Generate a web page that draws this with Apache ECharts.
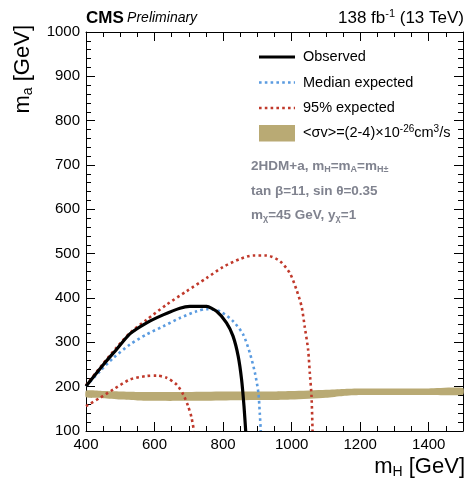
<!DOCTYPE html>
<html><head><meta charset="utf-8">
<script src="https://cdn.jsdelivr.net/npm/echarts@6/dist/echarts.min.js"></script>
<style>html,body{margin:0;padding:0;background:#fff}#c{width:472px;height:491px}</style>
</head><body><div id="c"></div>
<script>
// ---- data ----
const xTicks = [400, 600, 800, 1000, 1200, 1400];
const yTicks = [100, 200, 300, 400, 500, 600, 700, 800, 900, 1000];
const observed = [[400,201],[451,250],[489,284],[528,319],[577,344],[625,362],[674,377],[703,381],[752,381],[781,370],[810,344],[829,314],[844,269],[854,216],[861,156],[866,100]];
const medianExp = [[400,201],[441,235],[480,265],[528,295],[577,318],[625,336],[674,355],[723,370],[752,375],[791,370],[830,347],[859,317],[878,276],[893,231],[903,186],[907,141],[910,100]];
const exp95Upper = [[400,203],[450,252],[489,288],[528,321],[577,351],[635,385],[693,415],[752,445],[800,470],[849,488],[888,496],[927,496],[966,483],[995,456],[1014,419],[1029,381],[1038,336],[1048,284],[1053,231],[1058,179],[1061,100]];
const exp95Lower = [[400,156],[441,175],[480,194],[528,216],[577,224],[606,225],[635,220],[664,205],[684,182],[698,156],[708,130],[715,100]];
const bandX  = [400,450,500,550,600,700,800,900,950,1000,1100,1150,1200,1300,1400,1500];
const bandLo = [176,174,171,169,168,168,169,170,170,171,175,179,181,181,181,182];
const bandHi = [191,190,189,188,188,188,189,189,189,190,193,195,196,196,196,197];

const RED = '#c0392b', BLUE = '#5a9be0', TAN = '#b9aa74', GRAY = '#80838f';
const FONT = 'Liberation Sans, Arial, Helvetica, sans-serif';

const chart = echarts.init(document.getElementById('c'));

function axisCommon(show) {
  return {
    type: 'value',
    axisLine: { show: true, onZero: false, lineStyle: { color: '#000', width: 1 } },
    axisTick: { show: true, inside: true, length: 9, lineStyle: { color: '#000', width: 1 } },
    minorTick: { show: true, length: 5, lineStyle: { color: '#000', width: 1 } },
    splitLine: { show: false },
    minorSplitLine: { show: false },
    axisLabel: { show: show, color: '#000', fontSize: 15, fontFamily: FONT }
  };
}

const dotted = (c) => ({ color: c, width: 2.6, type: [2.6, 3.2], cap: 'butt' });

chart.setOption({
  animation: false,
  grid: { left: 86, right: 9, top: 32, bottom: 60 },
  xAxis: [
    Object.assign(axisCommon(true), { min: 400, max: 1500, interval: 200, position: 'bottom',
      minorTick: { show: true, splitNumber: 4, length: 5, lineStyle: { color: '#000' } },
      axisLabel: { color: '#000', fontSize: 15, fontFamily: FONT, margin: 6,
        formatter: v => xTicks.includes(v) ? String(v) : '' } }),
    Object.assign(axisCommon(false), { min: 400, max: 1500, interval: 200, position: 'top',
      minorTick: { show: true, splitNumber: 4, length: 5, lineStyle: { color: '#000' } } })
  ],
  yAxis: [
    Object.assign(axisCommon(true), { min: 100, max: 1000, interval: 100, position: 'left',
      minorTick: { show: true, splitNumber: 5, length: 5, lineStyle: { color: '#000' } },
      axisLabel: { color: '#000', fontSize: 15, fontFamily: FONT, margin: 6,
        formatter: v => yTicks.includes(v) ? String(v) : '' } }),
    Object.assign(axisCommon(false), { min: 100, max: 1000, interval: 100, position: 'right',
      minorTick: { show: true, splitNumber: 5, length: 5, lineStyle: { color: '#000' } } })
  ],
  series: [
    {
      type: 'custom', name: 'band', xAxisIndex: 0, yAxisIndex: 0, z: 1,
      data: bandX.map((x, i) => [x, bandLo[i], bandHi[i]]),
      renderItem: function (params, api) {
        if (params.dataIndex !== 0) return null;
        const pts = [];
        for (let i = 0; i < bandX.length; i++) pts.push(api.coord([bandX[i], bandHi[i]]));
        for (let i = bandX.length - 1; i >= 0; i--) pts.push(api.coord([bandX[i], bandLo[i]]));
        return { type: 'polygon', shape: { points: pts, smooth: 0.2 }, style: { fill: TAN } };
      }
    },
    { type: 'line', name: 'exp95Lower', data: exp95Lower, showSymbol: false, symbol: 'none', smooth: 0.25, lineStyle: dotted(RED), z: 3 },
    { type: 'line', name: 'exp95Upper', data: exp95Upper, showSymbol: false, symbol: 'none', smooth: 0.25, lineStyle: dotted(RED), z: 3 },
    { type: 'line', name: 'median', data: medianExp, showSymbol: false, symbol: 'none', smooth: 0.25, lineStyle: dotted(BLUE), z: 4 },
    { type: 'line', name: 'observed', data: observed, showSymbol: false, symbol: 'none', smooth: 0.2, lineStyle: { color: '#000', width: 3.2 }, z: 5 }
  ],
  graphic: [
    // header
    { type: 'text', x: 86, y: 18, style: { text: '{b|CMS} {i|Preliminary}', verticalAlign: 'middle',
        rich: { b: { fontSize: 17, fontWeight: 'bold', fontFamily: FONT, fill: '#000' },
                i: { fontSize: 14, fontStyle: 'italic', fontFamily: FONT, fill: '#000' } } } },
    { type: 'text', x: 464, y: 18, style: { text: '{n|138 fb}{s|-1}{n| (13 TeV)}', align: 'right', verticalAlign: 'middle',
        rich: { n: { fontSize: 17, fontFamily: FONT, fill: '#000' },
                s: { fontSize: 11, fontFamily: FONT, fill: '#000', verticalAlign: 'top', padding: [0, 0, 8, 0] } } } },
    // axis titles
    { type: 'text', x: 465, y: 467, style: { text: '{n|m}{s|H}{n| [GeV]}', align: 'right', verticalAlign: 'middle',
        rich: { n: { fontSize: 22, fontFamily: FONT, fill: '#000' },
                s: { fontSize: 14, fontFamily: FONT, fill: '#000', padding: [11, 0, 0, 0] } } } },
    { type: 'text', x: 23, y: 25, rotation: Math.PI / 2, style: { text: '{n|m}{s|a}{n| [GeV]}', align: 'right', verticalAlign: 'middle',
        rich: { n: { fontSize: 22, fontFamily: FONT, fill: '#000' },
                s: { fontSize: 14, fontFamily: FONT, fill: '#000', padding: [11, 0, 0, 0] } } } },
    // legend
    { type: 'line', shape: { x1: 259, y1: 57, x2: 295, y2: 57 }, style: { stroke: '#000', lineWidth: 3.2 } },
    { type: 'line', shape: { x1: 259, y1: 82.5, x2: 295, y2: 82.5 }, style: { stroke: BLUE, lineWidth: 2.6, lineDash: [2.6, 3.2] } },
    { type: 'line', shape: { x1: 259, y1: 108, x2: 295, y2: 108 }, style: { stroke: RED, lineWidth: 2.6, lineDash: [2.6, 3.2] } },
    { type: 'rect', shape: { x: 259, y: 125, width: 36, height: 16.5 }, style: { fill: TAN } },
    { type: 'text', x: 303, y: 57, style: { text: 'Observed', verticalAlign: 'middle', fontSize: 14.5, fontFamily: FONT, fill: '#000' } },
    { type: 'text', x: 303, y: 82.5, style: { text: 'Median expected', verticalAlign: 'middle', fontSize: 14.5, fontFamily: FONT, fill: '#000' } },
    { type: 'text', x: 303, y: 108, style: { text: '95% expected', verticalAlign: 'middle', fontSize: 14.5, fontFamily: FONT, fill: '#000' } },
    { type: 'text', x: 303, y: 133, style: { text: '{n|<σv>=(2-4)×10}{s|-26}{n|cm}{s|3}{n|/s}', verticalAlign: 'middle',
        rich: { n: { fontSize: 14.5, fontFamily: FONT, fill: '#000' },
                s: { fontSize: 10, fontFamily: FONT, fill: '#000', padding: [0, 0, 8, 0] } } } },
    // model info
    { type: 'text', x: 251, y: 166, style: { text: '{n|2HDM+a, m}{s|H}{n|=m}{s|A}{n|=m}{s|H±}', verticalAlign: 'middle',
        rich: { n: { fontSize: 13.5, fontWeight: 'bold', fontFamily: FONT, fill: GRAY },
                s: { fontSize: 9, fontWeight: 'bold', fontFamily: FONT, fill: GRAY, padding: [7, 0, 0, 0] } } } },
    { type: 'text', x: 251, y: 191, style: { text: 'tan β=11, sin θ=0.35', verticalAlign: 'middle', fontSize: 13.5, fontWeight: 'bold', fontFamily: FONT, fill: GRAY } },
    { type: 'text', x: 251, y: 215, style: { text: '{n|m}{s|χ}{n|=45 GeV, y}{s|χ}{n|=1}', verticalAlign: 'middle',
        rich: { n: { fontSize: 13.5, fontWeight: 'bold', fontFamily: FONT, fill: GRAY },
                s: { fontSize: 9, fontWeight: 'bold', fontFamily: FONT, fill: GRAY, padding: [7, 0, 0, 0] } } } }
  ]
});
</script></body></html>
